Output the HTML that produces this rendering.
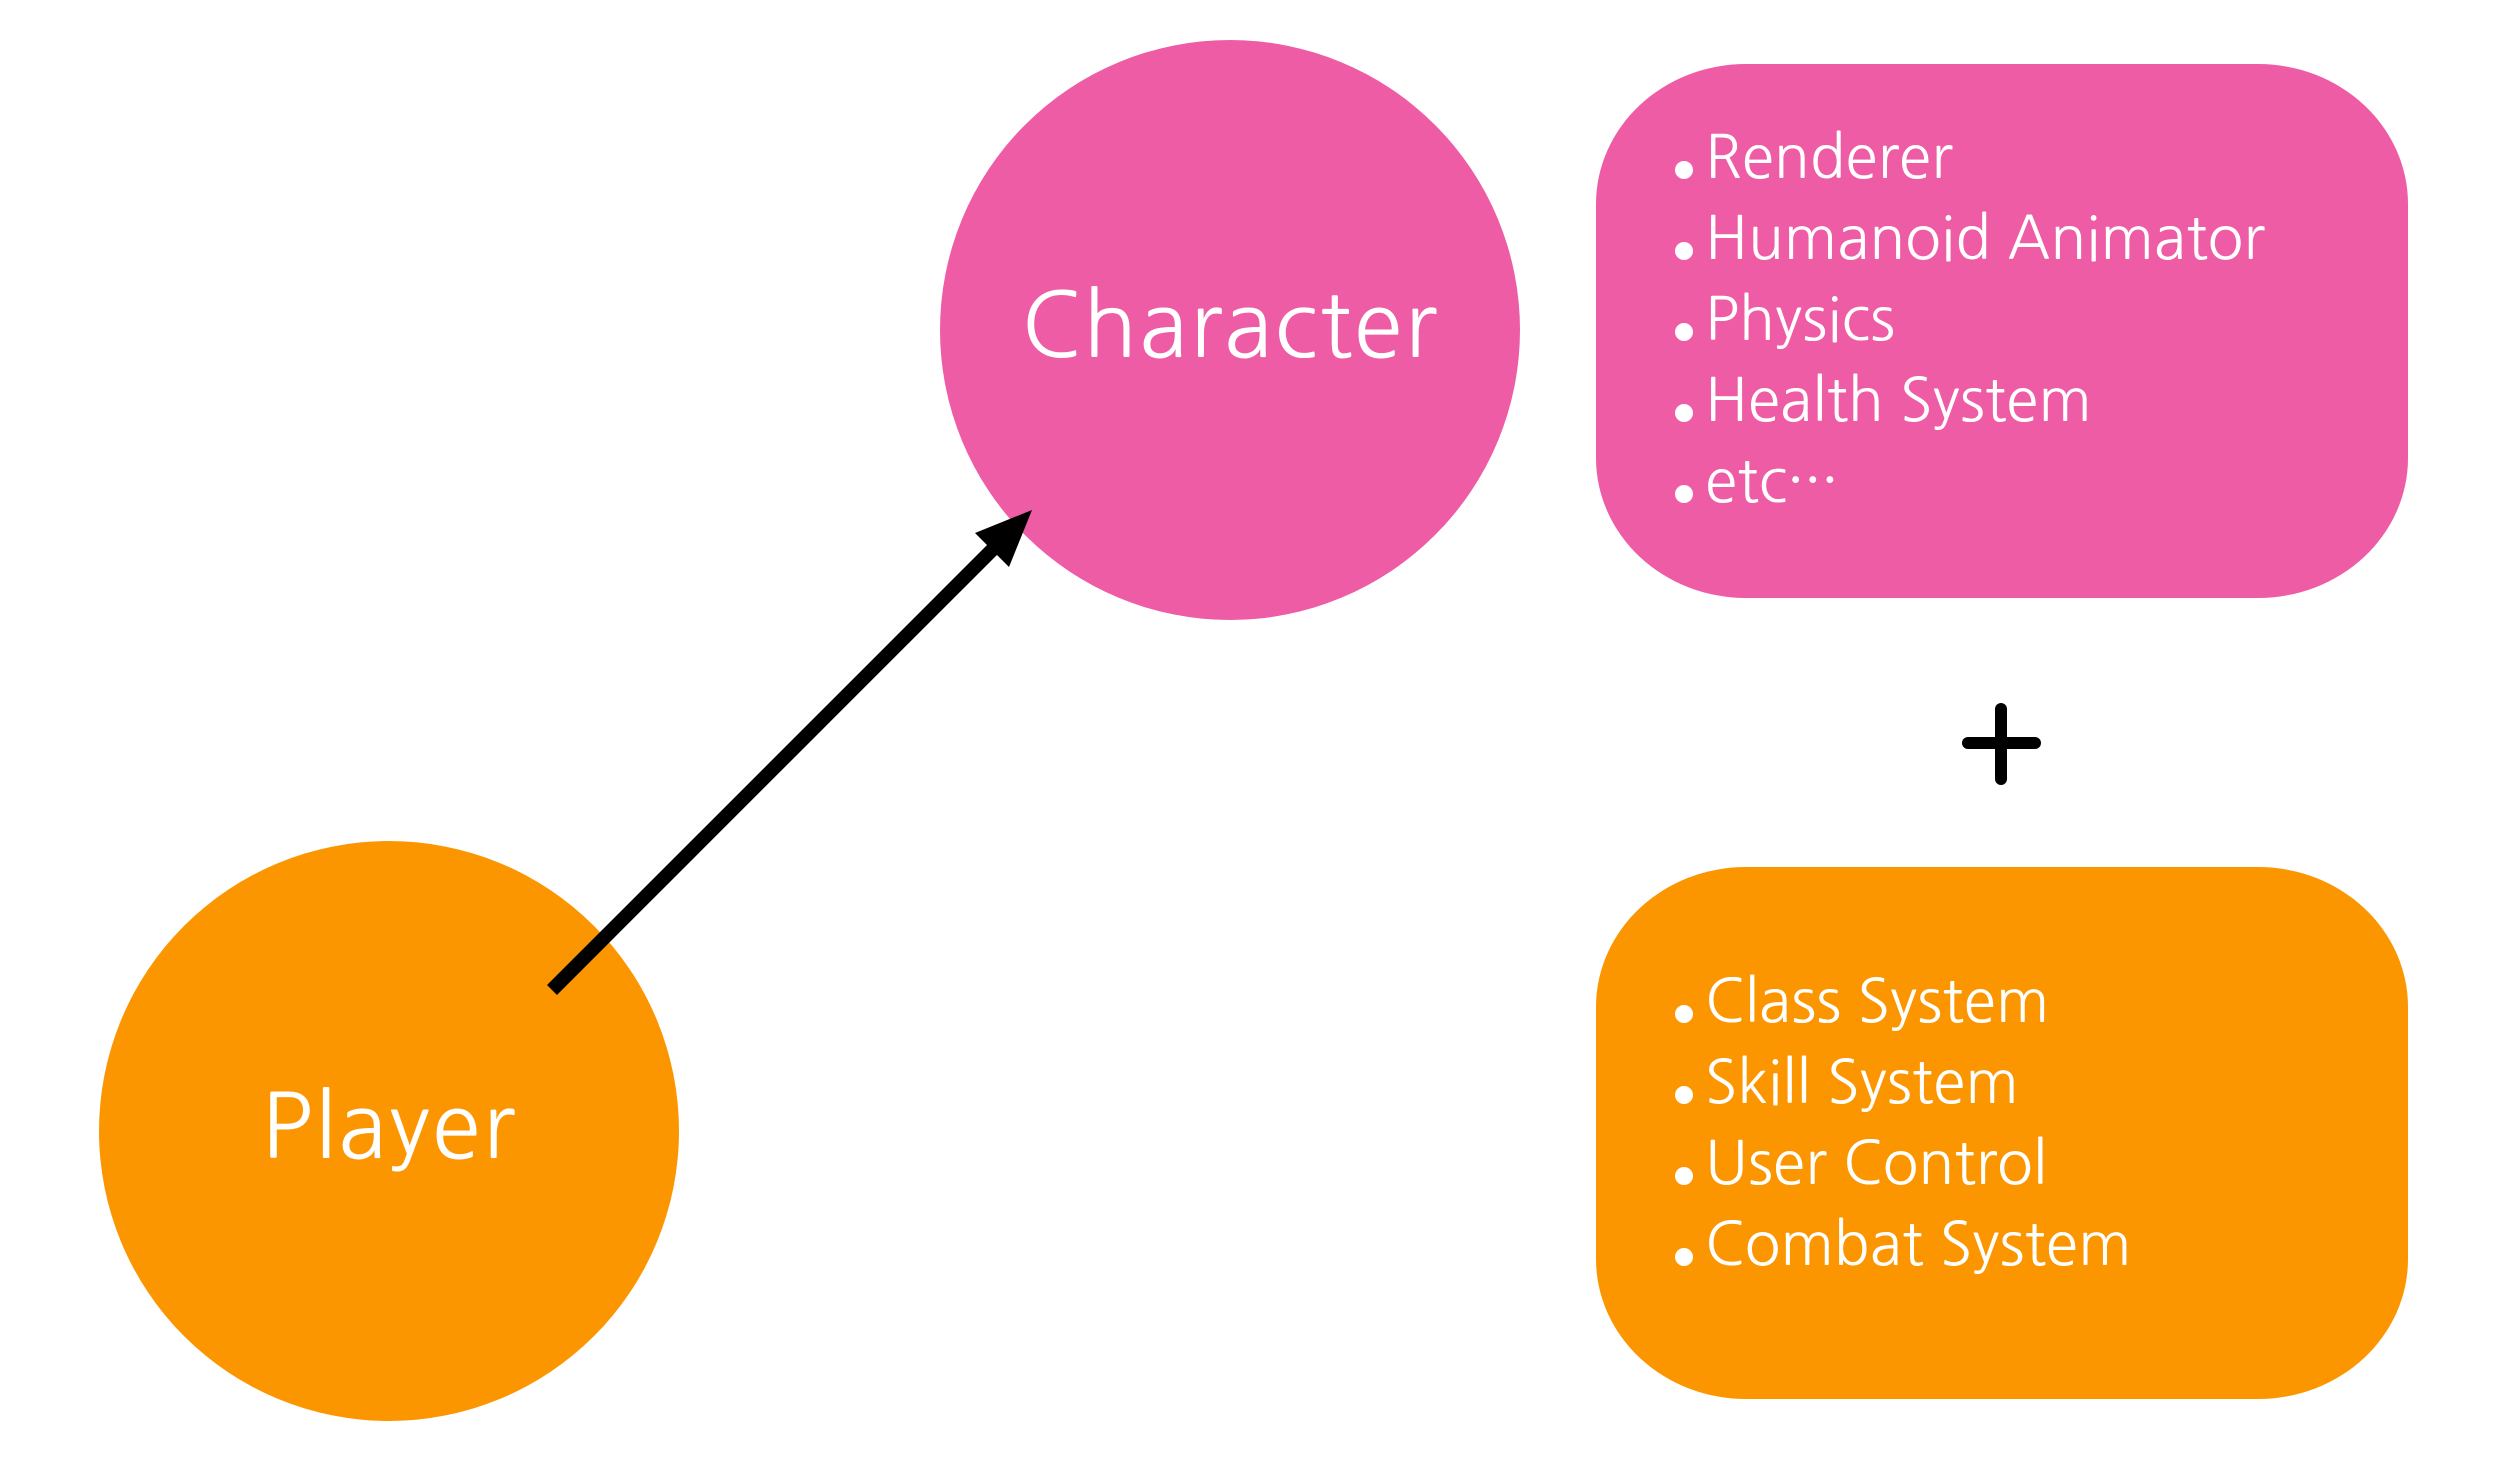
<!DOCTYPE html>
<html><head><meta charset="utf-8"><style>
html,body{margin:0;padding:0;background:#fff;}
body{width:2512px;height:1476px;position:relative;overflow:hidden;font-family:"NanumGothic","Liberation Sans",sans-serif;}
.c{position:absolute;border-radius:50%;color:#fff;display:flex;align-items:center;justify-content:center;}
.b{position:absolute;border-radius:150px/140px;}
.list{position:absolute;left:1675px;color:#fff;font-size:59px;line-height:81px;}
.list div{position:relative;padding-left:30px;}
.list div:before{content:"";position:absolute;left:0;top:44px;width:18px;height:18px;border-radius:50%;background:#fff;}
</style></head><body>
<div class="c" style="left:940px;top:40px;width:580px;height:580px;background:#EE5CA5;font-size:89px;letter-spacing:2px;"><span style="margin-top:-10px">Character</span></div>
<div class="c" style="left:99px;top:841px;width:580px;height:580px;background:#FB9600;font-size:89px;letter-spacing:2px;"><span style="margin-top:-10px">Player</span></div>
<div class="b" style="left:1596px;top:64px;width:812px;height:534px;background:#EE5CA5;"></div>
<div class="b" style="left:1596px;top:867px;width:812px;height:532px;background:#FB9600;"></div>
<div class="list" style="top:117px;">
<div>Renderer</div><div>Humanoid Animator</div><div>Physics</div><div>Health System</div><div>etc···</div></div>
<div class="list" style="top:961px;">
<div>Class System</div><div>Skill System</div><div>User Control</div><div>Combat System</div></div>
<svg width="2512" height="1476" style="position:absolute;left:0;top:0">
<line x1="552" y1="990" x2="1000" y2="542" stroke="#000" stroke-width="14"/>
<polygon points="1032,510 975,533 1009,567" fill="#000"/>
<line x1="1968" y1="743" x2="2035" y2="743" stroke="#000" stroke-width="12" stroke-linecap="round"/>
<line x1="2001" y1="709" x2="2001" y2="779" stroke="#000" stroke-width="12" stroke-linecap="round"/>
</svg>
</body></html>
